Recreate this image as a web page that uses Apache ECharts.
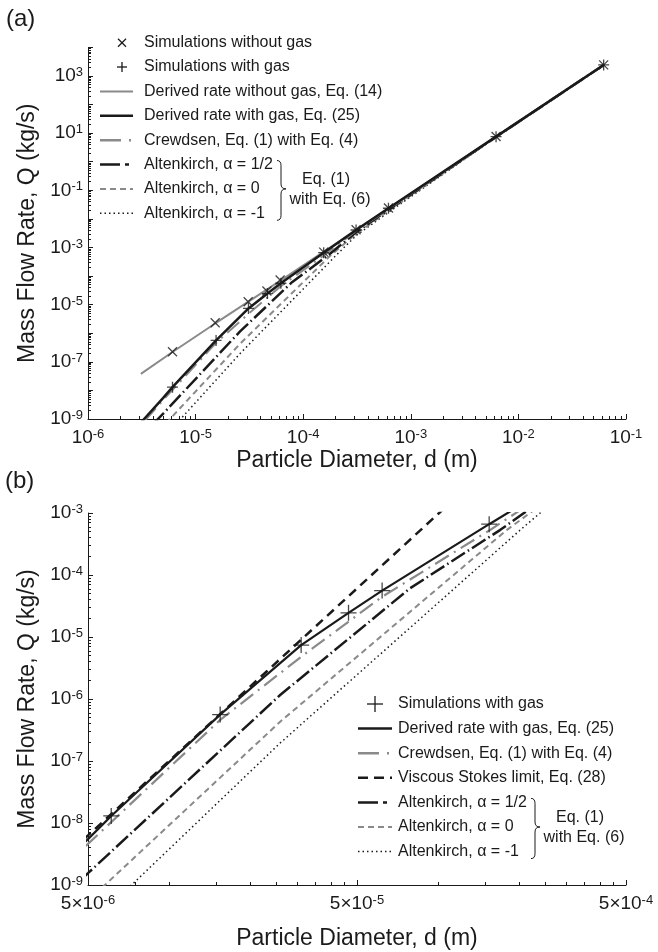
<!DOCTYPE html>
<html><head><meta charset="utf-8">
<script src="https://cdn.jsdelivr.net/npm/echarts@6/dist/echarts.min.js"></script>
<style>html,body{margin:0;padding:0;background:#fff}#c{width:658px;height:952px}</style>
</head><body><div id="c"></div>
<script>
// ---------------- data (d [m], Q [kg/s]) ----------------
const simNoGas = [[6.1e-6,2.26e-7],[1.52e-5,2.34e-6],[3.08e-5,1.27e-5],[4.6e-5,3.0e-5],[6.1e-5,7.3e-5],
  [1.55e-4,6.9e-4],[3.1e-4,4.2e-3],[6.2e-4,0.024],[6.2e-3,7.6],[6.2e-2,2440]];
const simGas = [[6.1e-6,1.3e-8],[1.55e-5,5.6e-7],[3.1e-5,7.4e-6],[4.65e-5,2.45e-5],[6.2e-5,5.6e-5],
  [1.55e-4,6.6e-4],[3.1e-4,4.1e-3],[6.2e-4,0.0236],[6.2e-3,7.55],[6.2e-2,2430]];
const derivedNoGas = [[3.1e-6,3.8e-8],[6.1e-6,2.2e-7],[1.52e-5,2.2e-6],[6.1e-5,6.8e-5],[6.2e-4,0.023],[6.2e-2,2440]];
const derivedGas = [[3.0e-6,6.5e-10],[5e-6,5.5e-9],[6.1e-6,1.3e-8],[1.55e-5,5.6e-7],[3.1e-5,7.4e-6],[4.65e-5,2.45e-5],
  [6.2e-5,5.6e-5],[1.55e-4,6.6e-4],[3.1e-4,4.1e-3],[6.2e-4,0.0236],[6.2e-3,7.55],[6.2e-2,2430]];
const crewdsen = [[3.4e-6,9e-10],[5e-6,4.6e-9],[1.55e-5,4.6e-7],[3.1e-5,4.8e-6],[6.2e-5,4.45e-5],[1.56e-4,5.3e-4],
  [3.1e-4,3.8e-3],[6.2e-4,0.0225],[6.2e-3,7.4],[6.2e-2,2400]];
const viscous = [[4e-6,2.6e-9],[5e-6,6.3e-9],[1.01e-4,1e-3],[1.2e-4,2e-3]];
const alt12 = [[4.0e-6,6.5e-10],[5e-6,1.55e-9],[2.59e-5,1.16e-6],[7.87e-5,6.1e-5],[1.7e-4,5.3e-4],[3.1e-4,3.4e-3],
  [6.2e-4,0.021],[6.2e-3,7.4],[6.2e-2,2420]];
const alt0 = [[5.3e-6,7e-10],[5.78e-6,1e-9],[2.59e-5,4.3e-7],[1.8e-4,5.3e-4],[3.1e-4,3.0e-3],[6.2e-4,0.019],
  [6.2e-3,7.3],[6.2e-2,2410]];
const altm1 = [[6.6e-6,6.8e-10],[7.26e-6,1e-9],[2.59e-5,1.95e-7],[2.02e-4,5.3e-4],[3.1e-4,2.6e-3],[6.2e-4,0.017],
  [6.2e-3,7.2],[6.2e-2,2400]];

// ---------------- ticks ----------------
const aXLabels = [1e-6,1e-5,1e-4,1e-3,1e-2,1e-1];
const aYLabels = [1e-9,1e-7,1e-5,1e-3,1e-1,1e1,1e3];
const aYMajor = [1e-9,1e-8,1e-7,1e-6,1e-5,1e-4,1e-3,1e-2,1e-1,1,10,100,1000,10000];
const bXLabels = [5e-6,5e-5,5e-4];
const bXMinor = [7.5e-6,1e-5,1.5e-5,2e-5,2.5e-5,3e-5,3.5e-5,4e-5,4.5e-5,1e-4,1.5e-4,2e-4,2.5e-4,3e-4,3.5e-4,4e-4,4.5e-4];
const bYLabels = [1e-9,1e-8,1e-7,1e-6,1e-5,1e-4,1e-3];
const minorMult = [2,3,4,5,6,7,8,9];
function minors(e0, e1){ const r=[]; for(let e=e0;e<e1;e++){ for(const m of minorMult){ r.push(+(m*Math.pow(10,e)).toPrecision(3)); } } return r; }

const FONT = '"Liberation Sans", Arial, Helvetica, sans-serif';
const INK = '#1a1a1a';
const GRAY = '#8a8a8a';

function lab10(v){ return '10{s|' + Math.round(Math.log10(v)) + '}'; }
function lab5(v){ return '5×10{s|' + Math.round(Math.log10(v/5)) + '}'; }
const rich = { s: { fontSize: 13, lineHeight: 13, verticalAlign: 'top', fontFamily: FONT, color: INK } };

function mainAxis(isX, grid, min, max, labels, majors, fmt, name, nameGap){
  return {
    type: 'log', logBase: 10, gridIndex: grid, min: min, max: max,
    position: isX ? 'bottom' : 'left',
    name: name, nameLocation: 'middle', nameGap: nameGap,
    nameTextStyle: { fontFamily: FONT, fontSize: 23, color: INK },
    axisLine: { show: true, onZero: false, lineStyle: { color: INK, width: 1 } },
    axisTick: { show: true, inside: true, length: 5, customValues: majors, lineStyle: { color: INK, width: 1 } },
    axisLabel: { show: true, customValues: labels, formatter: fmt, margin: isX ? 9 : 5,
      fontFamily: FONT, fontSize: 19, lineHeight: 20, color: INK, rich: rich },
    splitLine: { show: false }
  };
}
function minorAxis(isX, grid, min, max, vals){
  return {
    type: 'log', logBase: 10, gridIndex: grid, min: min, max: max,
    position: isX ? 'bottom' : 'left',
    axisLine: { show: false },
    axisTick: { show: true, inside: true, length: 3, customValues: vals, lineStyle: { color: INK, width: 1 } },
    axisLabel: { show: false }, splitLine: { show: false }
  };
}

const xAxes = [
  mainAxis(true, 0, 1e-6, 1e-1, aXLabels, aXLabels, lab10, 'Particle Diameter, d (m)', 27),
  minorAxis(true, 0, 1e-6, 1e-1, minors(-6,-1)),
  mainAxis(true, 1, 5e-6, 5e-4, bXLabels, bXLabels, lab5, 'Particle Diameter, d (m)', 42),
  minorAxis(true, 1, 5e-6, 5e-4, bXMinor)
];
const yAxes = [
  mainAxis(false, 0, 1e-9, 1e4, aYLabels, aYMajor, lab10, 'Mass Flow Rate, Q (kg/s)', 43),
  minorAxis(false, 0, 1e-9, 1e4, minors(-9,4)),
  mainAxis(false, 1, 1e-9, 1e-3, bYLabels, bYLabels, lab10, 'Mass Flow Rate, Q (kg/s)', 43),
  minorAxis(false, 1, 1e-9, 1e-3, minors(-9,-3))
];

const PLUS = 'path://M0,5L10,5M5,0L5,10';
const CROSS = 'path://M0,0L10,10M10,0L0,10';

function lineS(data, xi, color, width, dash, z){
  return { type: 'line', data: data, xAxisIndex: xi, yAxisIndex: xi, showSymbol: false, symbol: 'none',
    clip: true, silent: true, z: z,
    lineStyle: { color: color, width: width, type: dash || 'solid' } };
}
function markS(data, xi, sym, size, w){
  return { type: 'scatter', data: data, xAxisIndex: xi, yAxisIndex: xi, symbol: sym, symbolSize: size,
    clip: true, silent: true, z: 10,
    itemStyle: { color: 'rgba(0,0,0,0)', borderColor: INK, borderWidth: w } };
}

const DASHDOT = [16,6,2,6];
const LONGDASH = [16,3.5,1.5,3.5];
const SHORTDASH = [6,4];
const DOT = [1.5,3];
const VISC = [9,6];

const series = [
  // panel (a)
  lineS(altm1, 0, INK, 1.5, DOT, 2),
  lineS(alt0, 0, GRAY, 2, SHORTDASH, 2),
  lineS(alt12, 0, INK, 2.5, LONGDASH, 3),
  lineS(crewdsen, 0, GRAY, 2, DASHDOT, 3),
  lineS(derivedNoGas, 0, GRAY, 2, 'solid', 4),
  lineS(derivedGas, 0, INK, 2.5, 'solid', 5),
  markS(simNoGas, 0, CROSS, 9, 1.3),
  markS(simGas, 0, PLUS, 11, 1.3),
  // panel (b)
  lineS(altm1, 2, INK, 1.5, DOT, 2),
  lineS(alt0, 2, GRAY, 2, SHORTDASH, 2),
  lineS(alt12, 2, INK, 2.5, LONGDASH, 3),
  lineS(crewdsen, 2, GRAY, 2.2, DASHDOT, 3),
  lineS(viscous, 2, INK, 2.5, VISC, 4),
  lineS(derivedGas, 2, INK, 2.2, 'solid', 5),
  markS(simGas, 2, PLUS, 16, 1.3)
];

// ---------------- legends (graphic) ----------------
const G = [];
function txt(x, y, s, size, align){
  G.push({ type: 'text', silent: true, z: 100,
    style: { x: x, y: y, text: s, fill: INK, font: (size||16) + 'px ' + FONT,
      textAlign: align || 'left', align: align || 'left', textVerticalAlign: 'middle', verticalAlign: 'middle' } });
}
function seg(x1, y1, x2, y2, color, w, dash){
  G.push({ type: 'line', silent: true, z: 100, shape: { x1: x1, y1: y1, x2: x2, y2: y2 },
    style: { stroke: color, lineWidth: w, lineDash: dash || null } });
}
function plus(cx, cy, h, w){ seg(cx-h, cy, cx+h, cy, INK, w); seg(cx, cy-h, cx, cy+h, INK, w); }
function cross(cx, cy, h, w){ seg(cx-h, cy-h, cx+h, cy+h, INK, w); seg(cx-h, cy+h, cx+h, cy-h, INK, w); }
function curve(x1,y1,cx,cy,x2,y2){
  G.push({ type: 'bezierCurve', silent: true, z: 100, shape: { x1:x1, y1:y1, x2:x2, y2:y2, cpx1:cx, cpy1:cy },
    style: { stroke: INK, lineWidth: 1, fill: null } });
}
function brace(x, yTop, yMid, yBot){
  const xs = x + 4, xt = x + 9;
  curve(x, yTop, xs, yTop, xs, yTop + 5);
  seg(xs, yTop + 5, xs, yMid - 5, INK, 1);
  curve(xs, yMid - 5, xs, yMid, xt, yMid);
  curve(xt, yMid, xs, yMid, xs, yMid + 5);
  seg(xs, yMid + 5, xs, yBot - 5, INK, 1);
  curve(xs, yBot - 5, xs, yBot, x, yBot);
}

// legend (a)
(function(){
  const x0 = 100, x1 = 133, tx = 144, mx = 122;
  const rows = [42.7, 67, 91.4, 115.8, 140.2, 164.5, 188.9, 213.3];
  cross(mx, rows[0], 4, 1.3); txt(tx, rows[0], 'Simulations without gas');
  plus(mx, rows[1], 5, 1.3); txt(tx, rows[1], 'Simulations with gas');
  seg(x0, rows[2], x1, rows[2], GRAY, 2); txt(tx, rows[2], 'Derived rate without gas, Eq. (14)');
  seg(x0, rows[3], x1, rows[3], INK, 2.5); txt(tx, rows[3], 'Derived rate with gas, Eq. (25)');
  seg(x0, rows[4], x1, rows[4], GRAY, 2.5, [21,8,2,10]); txt(tx, rows[4], 'Crewdsen, Eq. (1) with Eq. (4)');
  seg(x0, rows[5], x1, rows[5], INK, 2.5, [20,5,4,10]); txt(tx, rows[5], 'Altenkirch, α = 1/2');
  seg(x0, rows[6], x1, rows[6], GRAY, 2, [6,4]); txt(tx, rows[6], 'Altenkirch, α = 0');
  seg(x0, rows[7], x1, rows[7], INK, 1.5, [1.5,3]); txt(tx, rows[7], 'Altenkirch, α = -1');
  brace(277, rows[5] - 4, rows[6], rows[7] + 7);
  txt(326, rows[6] - 9, 'Eq. (1)', 16, 'center');
  txt(330, rows[6] + 11, 'with Eq. (6)', 16, 'center');
})();
// legend (b)
(function(){
  const x0 = 358, x1 = 392, tx = 398, mx = 375;
  const rows = [704, 728.6, 753.2, 777.8, 802.4, 827, 851.6];
  plus(mx, rows[0], 8, 1.3); txt(tx, rows[0], 'Simulations with gas');
  seg(x0, rows[1], x1, rows[1], INK, 2.5); txt(tx, rows[1], 'Derived rate with gas, Eq. (25)');
  seg(x0, rows[2], x1, rows[2], GRAY, 2.5, [21,8,2,10]); txt(tx, rows[2], 'Crewdsen, Eq. (1) with Eq. (4)');
  seg(x0, rows[3], x1, rows[3], INK, 2.5, [10,6]); txt(tx, rows[3], 'Viscous Stokes limit, Eq. (28)');
  seg(x0, rows[4], x1, rows[4], INK, 2.5, [20,5,4,10]); txt(tx, rows[4], 'Altenkirch, α = 1/2');
  seg(x0, rows[5], x1, rows[5], GRAY, 2, [6,4]); txt(tx, rows[5], 'Altenkirch, α = 0');
  seg(x0, rows[6], x1, rows[6], INK, 1.5, [1.5,3]); txt(tx, rows[6], 'Altenkirch, α = -1');
  brace(531, rows[4] - 4, rows[5], rows[6] + 7);
  txt(580, rows[5] - 9, 'Eq. (1)', 16, 'center');
  txt(584, rows[5] + 11, 'with Eq. (6)', 16, 'center');
})();
// panel letters
txt(6, 19, '(a)', 24);
txt(5, 481, '(b)', 24);

const chart = echarts.init(document.getElementById('c'), null, { renderer: 'canvas' });
chart.setOption({
  animation: false,
  backgroundColor: '#ffffff',
  textStyle: { fontFamily: FONT },
  grid: [
    { left: 88, right: 32, top: 47.4, height: 371.6, containLabel: false },
    { left: 88, right: 32, top: 513, height: 372, containLabel: false }
  ],
  xAxis: xAxes,
  yAxis: yAxes,
  series: series,
  graphic: G
});
</script>
</body></html>
